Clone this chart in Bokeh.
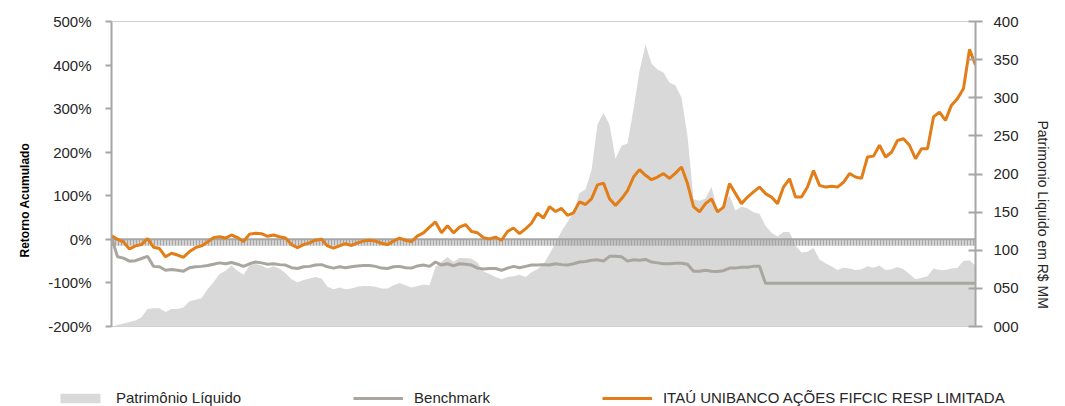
from bokeh.plotting import figure
from bokeh.layouts import column
from bokeh.models import (Range1d, LinearAxis, FixedTicker, PrintfTickFormatter,
                          Legend, LegendItem, Span, Title)
from bokeh.embed import file_html
from bokeh.resources import INLINE

# ---------------- data ----------------
fund_ret = [
    8, 0, -6, -22, -15, -12, 2, -18, -21, -40,
    -32, -36, -41, -28, -19, -15, -6, 4, 6, 3,
    10, 4, -5, 12, 14, 13, 7, 10, 6, 3,
    -12, -19, -12, -8, -2, 0, -15, -20, -15, -10,
    -14, -8, -4, -2, -4, -9, -12, -4, 3, -2,
    -5, 8, 15, 28, 40, 15, 31, 15, 28, 34,
    18, 15, 4, 1, 5, -2, 18, 26, 13, 24,
    37, 60, 49, 75, 64, 71, 55, 61, 86, 80,
    93, 125, 129, 93, 78, 93, 112, 143, 160, 147,
    137, 143, 151, 140, 152, 166, 128, 75, 63, 82,
    93, 63, 74, 128, 105, 82, 97, 109, 120, 105,
    97, 82, 120, 139, 97, 97, 120, 158, 124, 120,
    122, 120, 131, 151, 143, 140, 189, 191, 216, 189,
    200, 227, 231, 216, 185, 208, 208, 281, 292, 273,
    308, 323, 346, 436, 400,
]

bench_ret = [
    5, -40, -43, -50, -49, -44, -39, -62, -63, -71,
    -69, -71, -73, -65, -63, -62, -60, -57, -54, -56,
    -53, -57, -62, -56, -52, -54, -57, -56, -58, -59,
    -65, -67, -63, -62, -59, -58, -63, -66, -63, -65,
    -63, -61, -60, -60, -62, -66, -67, -63, -62, -65,
    -66, -61, -59, -62, -52, -59, -56, -61, -56, -57,
    -59, -66, -68, -67, -67, -71, -66, -62, -65, -62,
    -59, -59, -58, -59, -56, -58, -59, -56, -52, -51,
    -48, -47, -50, -39, -39, -40, -50, -47, -48, -46,
    -52, -54, -56, -56, -55, -55, -57, -73, -73, -71,
    -73, -74, -72, -66, -66, -64, -64, -62, -62, -101,
    -101, -101, -101, -101, -101, -101, -101, -101, -101, -101,
    -101, -101, -101, -101, -101, -101, -101, -101, -101, -101,
    -101, -101, -101, -101, -101, -101, -101, -101, -101, -101,
    -101, -101, -101, -101, -101,
]

pl_mm = [
    0, 2, 4, 6, 8, 12, 23, 24, 24, 19,
    23, 23, 25, 33, 35, 37, 49, 58, 69, 73,
    80, 73, 68, 80, 82, 80, 76, 79, 76, 70,
    62, 58, 61, 63, 65, 63, 52, 49, 51, 49,
    50, 52, 53, 53, 52, 50, 50, 54, 57, 54,
    51, 53, 55, 54, 78, 85, 91, 85, 90, 90,
    89, 84, 72, 69, 65, 62, 65, 66, 68, 65,
    71, 75, 82, 95, 110, 125, 137, 150, 175, 180,
    205, 265, 280, 265, 220, 237, 240, 285, 335, 370,
    345, 337, 333, 320, 316, 300, 250, 167, 165, 168,
    183, 152, 158, 172, 152, 157, 155, 150, 148, 132,
    123, 118, 124, 124, 106, 97, 98, 103, 88, 83,
    79, 74, 77, 76, 74, 75, 79, 77, 80, 74,
    75, 78, 75, 69, 62, 64, 66, 76, 74, 74,
    76, 77, 86, 87, 80,
]

left_ticks = [-200, -100, 0, 100, 200, 300, 400, 500]
right_ticks = [0, 50, 100, 150, 200, 250, 300, 350, 400]
left_title = "Retorno Acumulado"
right_title = "Patrimonio Liquido em R$ MM"
legend_labels = ["Patrimônio Líquido", "Benchmark",
                 "ITAÚ UNIBANCO AÇÕES FIFCIC RESP LIMITADA"]

x = list(range(len(fund_ret)))

# ---------------- styling ----------------
ORANGE = "#E27D17"
BENCH = "#A9A6A1"
AREA = "#D9D9D9"
AXIS = "#A6A6A6"
TEXT = "#262626"
FONT = "Liberation Sans"

W = 1065
H1, H2 = 340, 66

p = figure(width=W, height=H1, output_backend="svg", toolbar_location=None,
           x_range=Range1d(x[0], x[-1]), y_range=Range1d(left_ticks[0], left_ticks[-1]),
           x_axis_location=None,
           min_border_left=111, min_border_right=87,
           min_border_top=21, min_border_bottom=H1 - 326)
p.frame_align = False
p.extra_y_ranges = {"pl": Range1d(right_ticks[0], right_ticks[-1])}
p.xgrid.visible = False
p.ygrid.visible = False
p.outline_line_color = "#CFCFCF"
p.outline_line_width = 1
p.background_fill_color = "white"
p.border_fill_color = "white"

# left axis
ya = p.yaxis[0]
ya.ticker = FixedTicker(ticks=left_ticks)
ya.formatter = PrintfTickFormatter(format="%d%%")
ya.axis_line_color = AXIS
ya.axis_line_width = 2
ya.major_tick_line_color = AXIS
ya.major_tick_line_width = 2
ya.major_tick_out = 6
ya.major_tick_in = 0
ya.minor_tick_line_color = None
ya.major_label_standoff = 14
ya.major_label_text_font = FONT
ya.major_label_text_font_size = "15px"
ya.major_label_text_color = TEXT

# right axis
ra = LinearAxis(y_range_name="pl")
ra.ticker = FixedTicker(ticks=right_ticks)
ra.formatter = PrintfTickFormatter(format="%03d")
ra.axis_line_color = AXIS
ra.axis_line_width = 2
ra.major_tick_line_color = AXIS
ra.major_tick_line_width = 2
ra.major_tick_out = 7
ra.major_tick_in = 7
ra.minor_tick_line_color = None
ra.major_label_standoff = 11
ra.major_label_text_font = FONT
ra.major_label_text_font_size = "15px"
ra.major_label_text_color = TEXT
p.add_layout(ra, "right")

# axis titles as side-panel titles (positioned along the axis)
p.add_layout(Title(text=left_title, align="left", offset=69, standoff=28,
                   text_font=FONT, text_font_style="bold",
                   text_font_size="12px", text_color="black"), "left")
p.add_layout(Title(text=right_title, align="left", offset=99, standoff=26,
                   text_font=FONT, text_font_style="normal",
                   text_font_size="14px", text_color=TEXT), "right")

# area (Patrimonio Liquido)
r_area = p.varea(x=x, y1=0, y2=pl_mm, y_range_name="pl", fill_color=AREA,
                 level="image")

# zero line with small ticks below it
p.add_layout(Span(location=0, dimension="width", line_color=AXIS,
                  line_width=2, level="underlay"))
p.add_layout(Span(location=-7.5, dimension="width", line_color=AXIS,
                  line_width=6, line_dash="2 1", level="underlay"))

r_bench = p.line(x, bench_ret, line_color=BENCH, line_width=3)
r_fund = p.line(x, fund_ret, line_color=ORANGE, line_width=3)

# ---------------- legend strip (second figure, same series) ----------------
q = figure(width=W, height=H2, output_backend="svg", toolbar_location=None,
           x_range=Range1d(-2000, -1000), y_range=Range1d(0, 1),
           x_axis_location=None, y_axis_location=None,
           min_border=0)
q.frame_align = False
q.xgrid.visible = False
q.ygrid.visible = False
q.outline_line_color = None
q.background_fill_color = "white"
q.border_fill_color = "white"
la = q.varea(x=x, y1=0, y2=pl_mm, fill_color=AREA)
lb = q.line(x, bench_ret, line_color=BENCH, line_width=3)
lf = q.line(x, fund_ret, line_color=ORANGE, line_width=3)

legend = Legend(items=[LegendItem(label=legend_labels[0], renderers=[la]),
                       LegendItem(label=legend_labels[1], renderers=[lb]),
                       LegendItem(label=legend_labels[2], renderers=[lf])],
                location=(55, 0), orientation="horizontal",
                glyph_width=50, glyph_height=12, label_height=12,
                label_standoff=11, spacing=112, padding=0, margin=0,
                border_line_alpha=0, background_fill_alpha=0,
                label_text_font=FONT, label_text_font_size="15px",
                label_text_color=TEXT)
q.add_layout(legend, "center")

open("out.html", "w").write(file_html(column(p, q, spacing=0), INLINE))
